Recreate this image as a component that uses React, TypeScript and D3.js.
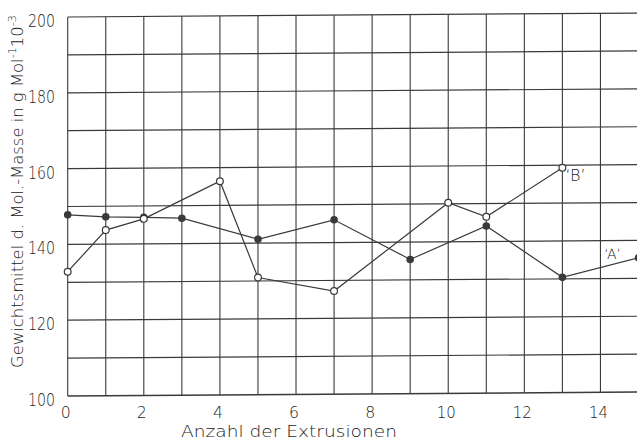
import React from "react";
import * as d3 from "d3";

const xTicks = [0, 2, 4, 6, 8, 10, 12, 14];
const yTicks = [100, 120, 140, 160, 180, 200];
const xGrid = d3.range(0, 16);
const yGrid = d3.range(100, 201, 10);

const seriesBX = [0, 1, 2, 4, 5, 7, 10, 11, 13];
const seriesBY = [132.8, 143.7, 146.6, 156.4, 130.9, 127.2, 150.3, 146.5, 159.3];
const seriesAX = [0, 1, 2, 3, 5, 7, 9, 11, 13, 15];
const seriesAY = [147.8, 147.2, 147, 146.7, 141, 146, 135.4, 144.1, 130.4, 135.4];

const labelB = "‘B’";
const labelA = "‘A’";
const xTitle = "Anzahl der Extrusionen";

const W = 637;
const H = 440;
const ink = "#3a3a3a";
const textInk = "#222";
const font = "'DejaVu Sans', sans-serif";
const weight = 200;

export default function App() {
  const x = d3.scaleLinear().domain([0, 15]).range([67.7, 638.5]);
  const y = d3.scaleLinear().domain([100, 200]).range([396, 17]);
  const line = d3
    .line<[number, number]>()
    .x((d) => x(d[0]))
    .y((d) => y(d[1]));
  const ptsA: [number, number][] = seriesAX.map((v, i) => [v, seriesAY[i]]);
  const ptsB: [number, number][] = seriesBX.map((v, i) => [v, seriesBY[i]]);
  const x0 = x(0);
  const y0 = y(100);
  const skew = `translate(${x0},${y0}) skewY(-0.4) translate(${-x0},${-y0})`;

  return (
    <svg
      width={W}
      height={H}
      style={{ position: "absolute", left: 0, top: 0, background: "#fff" }}
    >
      <rect x={0} y={0} width={W} height={H} fill="#fff" />
      <g transform={skew}>
        {xGrid.map((v) => (
          <line
            key={"gx" + v}
            x1={x(v)}
            x2={x(v)}
            y1={y(100)}
            y2={y(200)}
            stroke={ink}
            strokeWidth={1.1}
          />
        ))}
        {yGrid.map((v) => (
          <line
            key={"gy" + v}
            x1={x(0)}
            x2={x(15.2)}
            y1={y(v)}
            y2={y(v)}
            stroke={ink}
            strokeWidth={v === 100 ? 1.5 : 1.2}
          />
        ))}
        <path d={line(ptsA) || ""} fill="none" stroke={ink} strokeWidth={1.2} />
        <path d={line(ptsB) || ""} fill="none" stroke={ink} strokeWidth={1.2} />
        {ptsA.map((p, i) => (
          <circle key={"a" + i} cx={x(p[0])} cy={y(p[1])} r={3.8} fill={ink} />
        ))}
        {ptsB.map((p, i) => (
          <circle
            key={"b" + i}
            cx={x(p[0])}
            cy={y(p[1])}
            r={3.4}
            fill="#fff"
            stroke={ink}
            strokeWidth={1.2}
          />
        ))}
        <text
          x={x(13) + 3}
          y={y(seriesBY[8]) + 13}
          fontFamily={font}
          fontWeight={weight}
          fontSize={16}
          fill={textInk}
        >
          {labelB}
        </text>
        <text
          x={x(14.1)}
          y={y(seriesAY[9]) + 1}
          fontFamily={font}
          fontWeight={weight}
          fontSize={14}
          fill={textInk}
        >
          {labelA}
        </text>
      </g>
      {yTicks.map((v) => (
        <text
          key={"yt" + v}
          x={55}
          y={y(v) + 10}
          textAnchor="end"
          fontFamily={font}
          fontWeight={weight}
          fontSize={18}
          fill={textInk}
          textLength={27}
          lengthAdjust="spacingAndGlyphs"
        >
          {v}
        </text>
      ))}
      {xTicks.map((v) => (
        <text
          key={"xt" + v}
          x={x(v) - 2}
          y={418}
          textAnchor="middle"
          fontFamily={font}
          fontWeight={weight}
          fontSize={16}
          fill={textInk}
          textLength={v >= 10 ? 19 : 10}
          lengthAdjust="spacingAndGlyphs"
        >
          {v}
        </text>
      ))}
      <text
        x={181}
        y={437}
        fontFamily={font}
        fontWeight={weight}
        fontSize={15}
        fill={textInk}
        textLength={216}
        lengthAdjust="spacingAndGlyphs"
      >
        {xTitle}
      </text>
      <text
        transform="translate(23,368) rotate(-90)"
        x={0}
        y={0}
        fontFamily={font}
        fontWeight={weight}
        fontSize={16}
        fill={textInk}
        textLength={353}
        lengthAdjust="spacingAndGlyphs"
      >
        <tspan>Gewichtsmittel d. Mol.-Masse in g Mol</tspan>
        <tspan fontSize={11} dy={-7}>-1</tspan>
        <tspan dy={7}>10</tspan>
        <tspan fontSize={11} dy={-7}>-3</tspan>
      </text>
    </svg>
  );
}
